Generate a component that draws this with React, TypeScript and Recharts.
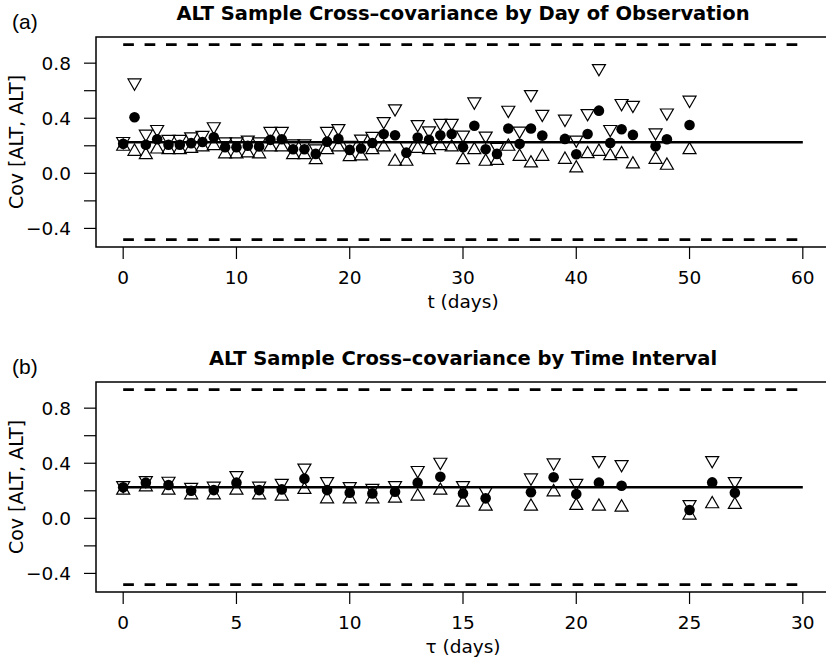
import React from "react";
import { ScatterChart, Scatter, XAxis, YAxis, ReferenceLine, ReferenceArea } from "recharts";

// (a) by day of observation
const days = [0, 1, 2, 3, 4, 5, 6, 7, 8, 9, 10, 11, 12, 13, 14, 15, 16, 17, 18, 19, 20, 21, 22, 23, 24, 25, 26, 27, 28, 29, 30, 31, 32, 33, 34, 35, 36, 37, 39, 40, 41, 42, 43, 44, 45, 47, 48, 50];
const dayEst = [0.214, 0.407, 0.207, 0.248, 0.207, 0.207, 0.219, 0.228, 0.262, 0.19, 0.19, 0.2, 0.195, 0.243, 0.248, 0.175, 0.175, 0.141, 0.23, 0.25, 0.17, 0.18, 0.22, 0.286, 0.277, 0.15, 0.26, 0.243, 0.277, 0.286, 0.19, 0.346, 0.175, 0.141, 0.325, 0.214, 0.325, 0.274, 0.25, 0.139, 0.286, 0.455, 0.221, 0.32, 0.279, 0.197, 0.248, 0.351];
const dayUpper = [0.233, 0.658, 0.286, 0.32, 0.248, 0.248, 0.267, 0.277, 0.34, 0.23, 0.23, 0.243, 0.23, 0.306, 0.306, 0.215, 0.215, 0.18, 0.306, 0.327, 0.205, 0.25, 0.27, 0.378, 0.47, 0.2, 0.356, 0.31, 0.365, 0.365, 0.279, 0.52, 0.272, 0.19, 0.46, 0.308, 0.574, 0.43, 0.395, 0.243, 0.436, 0.762, 0.32, 0.509, 0.496, 0.296, 0.44, 0.533];
const dayLower = [0.195, 0.158, 0.134, 0.175, 0.17, 0.17, 0.18, 0.19, 0.2, 0.14, 0.14, 0.147, 0.14, 0.19, 0.19, 0.134, 0.134, 0.098, 0.17, 0.19, 0.12, 0.125, 0.17, 0.19, 0.086, 0.086, 0.18, 0.17, 0.2, 0.19, 0.098, 0.17, 0.086, 0.092, 0.195, 0.122, 0.074, 0.122, 0.1, 0.038, 0.141, 0.158, 0.127, 0.141, 0.067, 0.1, 0.057, 0.17];

// (b) by time interval
const lags = [0, 1, 2, 3, 4, 5, 6, 7, 8, 9, 10, 11, 12, 13, 14, 15, 16, 18, 19, 20, 21, 22, 25, 26, 27];
const lagEst = [0.225, 0.259, 0.242, 0.2, 0.205, 0.259, 0.205, 0.21, 0.288, 0.205, 0.186, 0.181, 0.193, 0.259, 0.302, 0.181, 0.145, 0.189, 0.298, 0.176, 0.259, 0.237, 0.06, 0.261, 0.186];
const lagUpper = [0.24, 0.276, 0.271, 0.227, 0.235, 0.312, 0.235, 0.256, 0.367, 0.269, 0.232, 0.22, 0.24, 0.349, 0.409, 0.24, 0.198, 0.295, 0.404, 0.256, 0.421, 0.392, 0.102, 0.421, 0.269];
const lagLower = [0.203, 0.227, 0.203, 0.169, 0.169, 0.203, 0.169, 0.16, 0.208, 0.14, 0.14, 0.14, 0.145, 0.16, 0.203, 0.116, 0.087, 0.087, 0.191, 0.092, 0.087, 0.08, 0.022, 0.104, 0.099];

const yTicks = [-0.4, -0.2, 0, 0.2, 0.4, 0.6, 0.8];
const yLabelled = [-0.4, 0, 0.4, 0.8];
const dayTicks = [0, 10, 20, 30, 40, 50, 60];
const lagTicks = [0, 5, 10, 15, 20, 25, 30];

const meanLine = 0.225;
const bandHi = 0.935;
const bandLo = -0.482;

const Y_DOMAIN: [number, number] = [-0.535, 0.99];
const FONT = "DejaVu Sans";

const fmtY = (v: number) => {
  if (!yLabelled.some((l) => Math.abs(l - v) < 1e-9)) return "";
  if (Math.abs(v) < 1e-9) return "0.0";
  return v < 0 ? "\u2212" + Math.abs(v).toFixed(1) : v.toFixed(1);
};

const Dot = (p: any) => <circle cx={p.cx} cy={p.cy} r={5.3} fill="#000" />;
const Down = (p: any) => (
  <path
    d={`M${p.cx - 6.5},${p.cy - 3.75}L${p.cx + 6.5},${p.cy - 3.75}L${p.cx},${p.cy + 7.5}Z`}
    fill="none"
    stroke="#000"
    strokeWidth={1.2}
  />
);
const Up = (p: any) => (
  <path
    d={`M${p.cx - 6.5},${p.cy + 3.75}L${p.cx + 6.5},${p.cy + 3.75}L${p.cx},${p.cy - 7.5}Z`}
    fill="none"
    stroke="#000"
    strokeWidth={1.2}
  />
);

const toPts = (xs: number[], ys: number[]) => xs.map((x, i) => ({ x, y: ys[i] }));

function Panel({ xs, est, up, lo, xMax, xTicks, xLabel }: any) {
  const pad = xMax * 0.04;
  const tick = { fill: "#000", fontSize: 18.5, fontFamily: FONT };
  return (
    <ScatterChart width={850} height={335} margin={{ top: 37, right: 20, bottom: 0, left: 0 }}>
      <XAxis
        type="number"
        dataKey="x"
        domain={[-pad, xMax + pad]}
        ticks={xTicks}
        allowDataOverflow
        axisLine={false}
        tickLine={{ stroke: "#000", strokeWidth: 1.2 }}
        tickSize={12}
        tickMargin={12}
        tick={tick}
        height={88}
        label={{ value: xLabel, position: "insideBottom", offset: 27, fill: "#000", fontSize: 18.5, fontFamily: FONT }}
      />
      <YAxis
        type="number"
        dataKey="y"
        domain={Y_DOMAIN}
        ticks={yTicks}
        allowDataOverflow
        axisLine={false}
        tickLine={{ stroke: "#000", strokeWidth: 1.2 }}
        tickSize={12}
        tickMargin={13}
        tick={tick}
        tickFormatter={fmtY}
        width={96}
        label={{
          value: "Cov [ALT, ALT]",
          angle: -90,
          position: "insideLeft",
          offset: 16,
          fill: "#000",
          fontSize: 19,
          fontFamily: FONT,
          style: { textAnchor: "middle" },
        }}
      />
      <ReferenceArea
        x1={-pad}
        x2={xMax + pad}
        y1={Y_DOMAIN[0]}
        y2={Y_DOMAIN[1]}
        fill="none"
        fillOpacity={0}
        stroke="#000"
        strokeWidth={1.5}
      />
      <ReferenceLine segment={[{ x: 0, y: bandHi }, { x: xMax, y: bandHi }]} stroke="#000" strokeWidth={2.7} strokeDasharray="10.7 10.7" />
      <ReferenceLine segment={[{ x: 0, y: bandLo }, { x: xMax, y: bandLo }]} stroke="#000" strokeWidth={2.7} strokeDasharray="10.7 10.7" />
      <ReferenceLine segment={[{ x: 0, y: meanLine }, { x: xMax, y: meanLine }]} stroke="#000" strokeWidth={2.5} />
      <Scatter data={toPts(xs, est)} shape={Dot} isAnimationActive={false} />
      <Scatter data={toPts(xs, up)} shape={Down} isAnimationActive={false} />
      <Scatter data={toPts(xs, lo)} shape={Up} isAnimationActive={false} />
    </ScatterChart>
  );
}

export default function App() {
  return (
    <div style={{ position: "absolute", left: 0, top: 0, width: 826, height: 669, overflow: "hidden", background: "#fff" }}>
      <div style={{ position: "absolute", left: 0, top: 0 }}>
        <Panel xs={days} est={dayEst} up={dayUpper} lo={dayLower} xMax={60} xTicks={dayTicks} xLabel="t (days)" />
      </div>
      <div style={{ position: "absolute", left: 0, top: 345 }}>
        <Panel xs={lags} est={lagEst} up={lagUpper} lo={lagLower} xMax={30} xTicks={lagTicks} xLabel={"\u03c4 (days)"} />
      </div>
      <svg width={826} height={669} style={{ position: "absolute", left: 0, top: 0, pointerEvents: "none" }}>
        <text x={12} y={29} fontFamily="Liberation Sans" fontSize={21}>(a)</text>
        <text x={463} y={20} textAnchor="middle" fontFamily={FONT} fontWeight="bold" fontSize={19.5}>
          ALT Sample Cross–covariance by Day of Observation
        </text>
        <text x={12} y={374} fontFamily="Liberation Sans" fontSize={21}>(b)</text>
        <text x={463} y={365} textAnchor="middle" fontFamily={FONT} fontWeight="bold" fontSize={19.5}>
          ALT Sample Cross–covariance by Time Interval
        </text>
      </svg>
    </div>
  );
}
